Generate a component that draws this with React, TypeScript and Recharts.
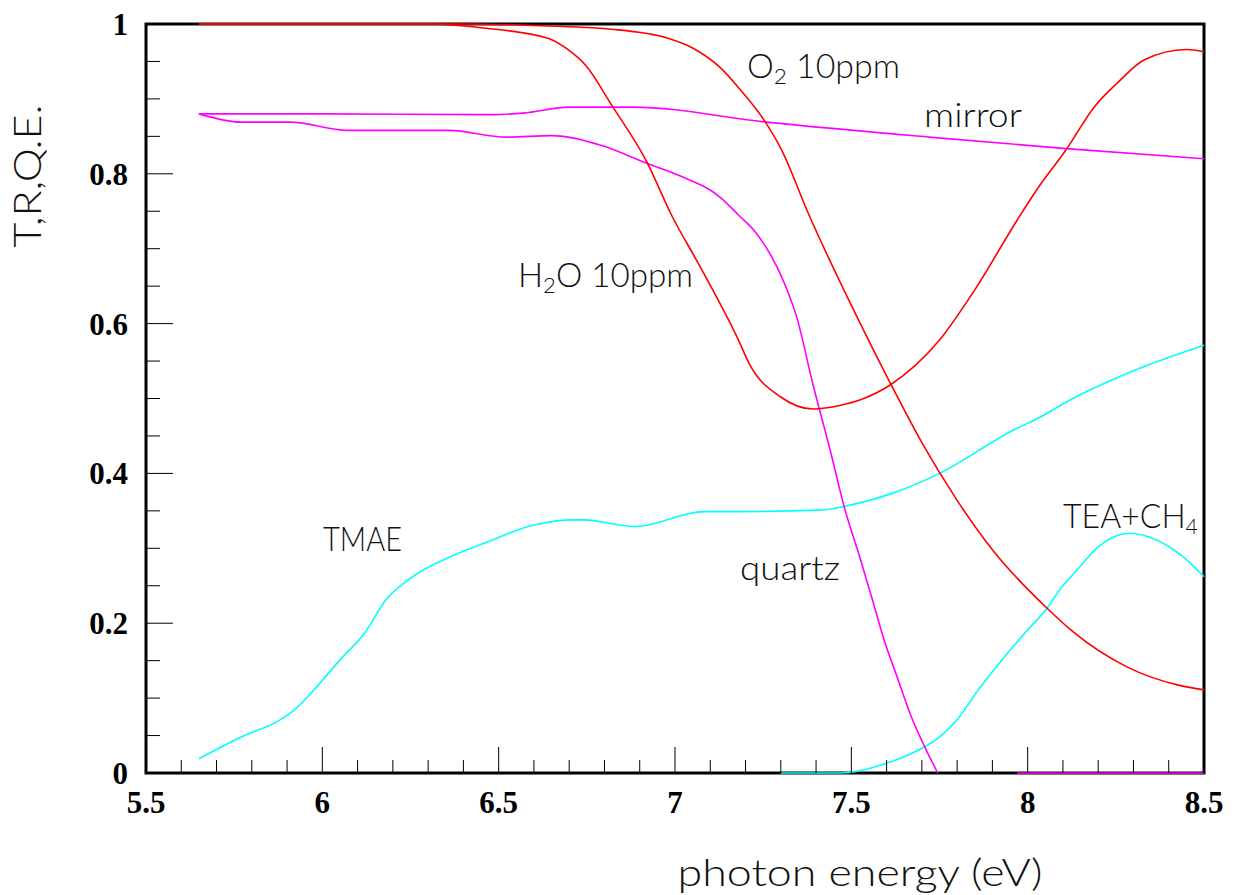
import React from "react";
import { LineChart, Line, XAxis, YAxis, ReferenceArea } from "recharts";

// photon energy (eV) / transmission values
const o2Energy = [5.65, 6.0, 6.4, 6.6, 6.82, 6.98, 7.05, 7.13, 7.18, 7.255, 7.3, 7.38, 7.516, 7.61, 7.7, 7.8, 7.9, 8.055, 8.13, 8.28, 8.43, 8.5];
const o2Trans = [1.0, 1.0, 1.0, 0.998, 0.993, 0.981, 0.968, 0.941, 0.915, 0.87, 0.834, 0.745, 0.609, 0.521, 0.441, 0.364, 0.298, 0.22, 0.188, 0.142, 0.117, 0.111];

const h2oEnergy = [5.65, 6.0, 6.3, 6.45, 6.64, 6.69, 6.75, 6.82, 6.92, 6.99, 7.07, 7.18, 7.21, 7.3, 7.39, 7.47, 7.53, 7.61, 7.75, 7.85, 7.97, 8.035, 8.106, 8.19, 8.256, 8.33, 8.45, 8.5];
const h2oTrans = [1.0, 1.0, 1.0, 0.995, 0.981, 0.968, 0.943, 0.892, 0.816, 0.745, 0.677, 0.578, 0.547, 0.502, 0.486, 0.491, 0.499, 0.518, 0.578, 0.645, 0.738, 0.785, 0.83, 0.89, 0.922, 0.952, 0.966, 0.963];

const mirrorEnergy = [5.65, 6.0, 6.48, 6.57, 6.7, 6.88, 7.26, 7.72, 8.1, 8.5];
const mirrorRefl = [0.88, 0.88, 0.879, 0.881, 0.889, 0.889, 0.869, 0.849, 0.834, 0.82];

const quartzEnergy = [5.65, 5.77, 5.91, 6.07, 6.36, 6.52, 6.65, 6.79, 6.92, 7.01, 7.13, 7.18, 7.23, 7.31, 7.345, 7.39, 7.44, 7.48, 7.524, 7.56, 7.59, 7.63, 7.67, 7.71, 7.745];
const quartzTrans = [0.88, 0.869, 0.869, 0.858, 0.858, 0.849, 0.851, 0.838, 0.814, 0.798, 0.768, 0.745, 0.721, 0.654, 0.609, 0.521, 0.431, 0.355, 0.288, 0.231, 0.182, 0.128, 0.075, 0.033, 0.0];
const quartzTailEnergy = [7.97, 8.5];
const quartzTailTrans = [0.0, 0.0];

const tmaeEnergy = [5.65, 5.77, 5.88, 5.92, 5.98, 6.05, 6.12, 6.18, 6.25, 6.36, 6.46, 6.6, 6.71, 6.74, 6.89, 7.08, 7.18, 7.41, 7.5, 7.62, 7.75, 7.96, 8.035, 8.12, 8.29, 8.5];
const tmaeQE = [0.019, 0.048, 0.071, 0.084, 0.113, 0.151, 0.187, 0.231, 0.26, 0.288, 0.307, 0.331, 0.338, 0.338, 0.329, 0.349, 0.349, 0.351, 0.358, 0.374, 0.4, 0.458, 0.475, 0.498, 0.535, 0.571];

const teaEnergy = [7.3, 7.47, 7.6, 7.7, 7.75, 7.8, 7.86, 7.92, 8.0, 8.055, 8.09, 8.14, 8.2, 8.29, 8.35, 8.44, 8.5];
const teaQE = [0.0, 0.0, 0.013, 0.033, 0.048, 0.071, 0.111, 0.147, 0.191, 0.22, 0.244, 0.271, 0.302, 0.32, 0.314, 0.289, 0.262];

const xTicks = [
  5.5, 5.6, 5.7, 5.8, 5.9, 6.0, 6.1, 6.2, 6.3, 6.4, 6.5, 6.6, 6.7, 6.8, 6.9, 7.0,
  7.1, 7.2, 7.3, 7.4, 7.5, 7.6, 7.7, 7.8, 7.9, 8.0, 8.1, 8.2, 8.3, 8.4, 8.5,
];
const xTickLabels = ["5.5", "6", "6.5", "7", "7.5", "8", "8.5"];
const yTicks = [
  0, 0.05, 0.1, 0.15, 0.2, 0.25, 0.3, 0.35, 0.4, 0.45, 0.5, 0.55, 0.6, 0.65, 0.7,
  0.75, 0.8, 0.85, 0.9, 0.95, 1,
];
const yTickLabels = ["0", "0.2", "0.4", "0.6", "0.8", "1"];

const zip = (e: number[], v: number[]) => e.map((x, i) => ({ e: x, v: v[i] }));

const tickFont = {
  fontFamily: "'Liberation Serif', 'Times New Roman', serif",
  fontWeight: 700,
  fontSize: 31,
  fill: "#000",
};

const thinFont = {
  fontFamily: "Lato, 'DejaVu Sans', sans-serif",
  fontWeight: 300,
  fill: "#111",
};

const fmt = (v: number) => String(Number(v.toFixed(2)));

function XTick({ x, y, payload }: any) {
  const label = fmt(payload.value);
  const major = xTickLabels.includes(label);
  return (
    <g>
      <line x1={x} x2={x} y1={y} y2={y - (major ? 26 : 13)} stroke="#000" strokeWidth={1} />
      {major && (
        <text x={x} y={y + 40} textAnchor="middle" {...tickFont}>
          {label}
        </text>
      )}
    </g>
  );
}

function YTick({ x, y, payload }: any) {
  const label = fmt(payload.value);
  const major = yTickLabels.includes(label);
  return (
    <g>
      <line x1={x} x2={x + (major ? 27 : 14)} y1={y} y2={y} stroke="#000" strokeWidth={1} />
      {major && (
        <text x={x - 18} y={y + 11} textAnchor="end" {...tickFont}>
          {label}
        </text>
      )}
    </g>
  );
}

const lineProps = {
  dataKey: "v",
  strokeWidth: 1.6,
  dot: false,
  activeDot: false,
  isAnimationActive: false,
};

export default function App() {
  const W = 1218;
  const H = 887;
  return (
    <div style={{ position: "relative", width: W, height: H }}>
      <LineChart width={W} height={H} margin={{ top: 16, right: 22, left: 0, bottom: 0 }}>
        <XAxis
          dataKey="e"
          type="number"
          domain={[5.5, 8.5]}
          ticks={xTicks}
          interval={0}
          height={122}
          axisLine={false}
          tickLine={false}
          tickSize={0}
          tickMargin={0}
          tick={<XTick />}
          allowDuplicatedCategory={false}
        />
        <YAxis
          type="number"
          domain={[0, 1]}
          ticks={yTicks}
          interval={0}
          width={138}
          axisLine={false}
          tickLine={false}
          tickSize={0}
          tickMargin={0}
          tick={<YTick />}
        />
        <ReferenceArea
          x1={5.5}
          x2={8.5}
          y1={0}
          y2={1}
          fill="none"
          stroke="#000"
          strokeWidth={3}
          ifOverflow="visible"
        />
        <Line {...lineProps} data={zip(tmaeEnergy, tmaeQE)} type="monotone" stroke="#00ffff" />
        <Line {...lineProps} data={zip(teaEnergy, teaQE)} type="monotone" stroke="#00ffff" />
        <Line {...lineProps} data={zip(mirrorEnergy, mirrorRefl)} type="monotone" stroke="#ff00ff" />
        <Line {...lineProps} data={zip(quartzEnergy, quartzTrans)} type="monotone" stroke="#ff00ff" />
        <Line {...lineProps} data={zip(quartzTailEnergy, quartzTailTrans)} type="linear" stroke="#ff00ff" />
        <Line {...lineProps} data={zip(o2Energy, o2Trans)} type="monotone" stroke="#ff0000" />
        <Line {...lineProps} data={zip(h2oEnergy, h2oTrans)} type="monotone" stroke="#ff0000" />
      </LineChart>
      <svg
        width={W}
        height={H}
        style={{ position: "absolute", left: 0, top: 0, pointerEvents: "none" }}
      >
        <g {...thinFont} fontSize={33}>
          <text x={739} y={70} textLength={153} lengthAdjust="spacingAndGlyphs">
            O<tspan fontSize={22} dy={6}>2</tspan>
            <tspan dy={-6}> 10ppm</tspan>
          </text>
          <text x={916} y={119} textLength={98} lengthAdjust="spacingAndGlyphs">
            mirror
          </text>
          <text x={510} y={279} textLength={175} lengthAdjust="spacingAndGlyphs">
            H<tspan fontSize={22} dy={6}>2</tspan>
            <tspan dy={-6}>O 10ppm</tspan>
          </text>
          <text x={732} y={572} textLength={100} lengthAdjust="spacingAndGlyphs">
            quartz
          </text>
          <text x={315} y={543} textLength={79} lengthAdjust="spacingAndGlyphs">
            TMAE
          </text>
          <text x={1055} y={520} textLength={135} lengthAdjust="spacingAndGlyphs">
            TEA+CH<tspan fontSize={22} dy={6}>4</tspan>
          </text>
        </g>
        <g {...thinFont} fontSize={37}>
          <text
            x={33}
            y={168}
            transform="rotate(-90 33 168)"
            textAnchor="middle"
            textLength={143}
            lengthAdjust="spacingAndGlyphs"
          >
            T,R,Q.E.
          </text>
          <text x={852} y={878} textAnchor="middle" textLength={365} lengthAdjust="spacingAndGlyphs">
            photon energy (eV)
          </text>
        </g>
      </svg>
    </div>
  );
}
